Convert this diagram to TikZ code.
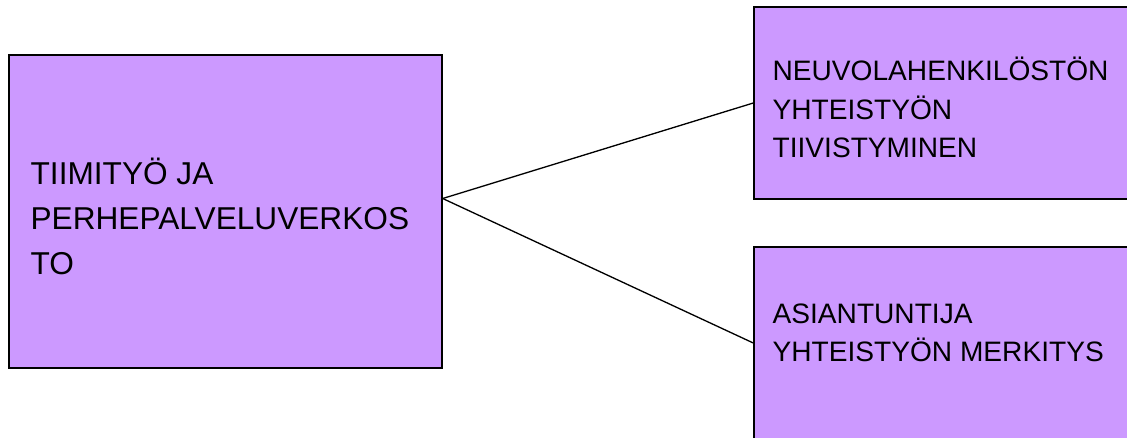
\documentclass[tikz,border=0pt]{standalone}
\usepackage{fontspec}
\setmainfont{Liberation Sans}
\definecolor{Laventeli}{HTML}{CC99FF}
\usetikzlibrary{positioning}

\begin{document}
\begin{tikzpicture}[x=0.02cm, y=-0.02cm,
  laatikko/.style={draw=black, line width=0.85pt, fill=Laventeli, inner sep=0pt},
  isoteksti/.style={anchor=base west, inner sep=0pt, align=left,
    font=\fontsize{18pt}{25.5pt}\selectfont},
  teksti/.style={anchor=base west, inner sep=0pt, align=left,
    font=\fontsize{16pt}{21.7pt}\selectfont},
  yhteys/.style={draw=black, line width=0.75pt}]
  \useasboundingbox (0,0) rectangle (1127,437);
  \clip (0,0) rectangle (1127,437);
  \fill[white] (0,0) rectangle (1127,437);

  % boxes
  \node[laatikko, minimum width=8.66cm, minimum height=6.26cm] (tiimi) at (225.5,211.5) {};
  \node[laatikko, minimum width=7.52cm, minimum height=3.84cm] (neuvola) at (942,103) {};
  \node[laatikko, minimum width=7.52cm, minimum height=3.84cm] (asiantuntija) at (942,343) {};

  % texts (base = baseline of the last line)
  \node[isoteksti] (tiimiT) at ([xshift=0.44cm, yshift=-4.40cm]tiimi.north west)
    {TIIMITYÖ JA\\PERHEPALVELUVERKOS\\TO};
  \node[teksti] (neuvolaT) at ([xshift=0.38cm, yshift=-3.02cm]neuvola.north west)
    {NEUVOLAHENKILÖSTÖN\\YHTEISTYÖN\\TIIVISTYMINEN};
  \node[teksti] (asiantuntijaT) at ([xshift=0.38cm, yshift=-2.30cm]asiantuntija.north west)
    {ASIANTUNTIJA\\YHTEISTYÖN MERKITYS};

  % connectors
  \coordinate (haara) at ([yshift=0.26cm]tiimi.east);
  \draw[yhteys] (haara) -- (neuvola.west);
  \draw[yhteys] (haara) -- (asiantuntija.west);
\end{tikzpicture}
\end{document}
